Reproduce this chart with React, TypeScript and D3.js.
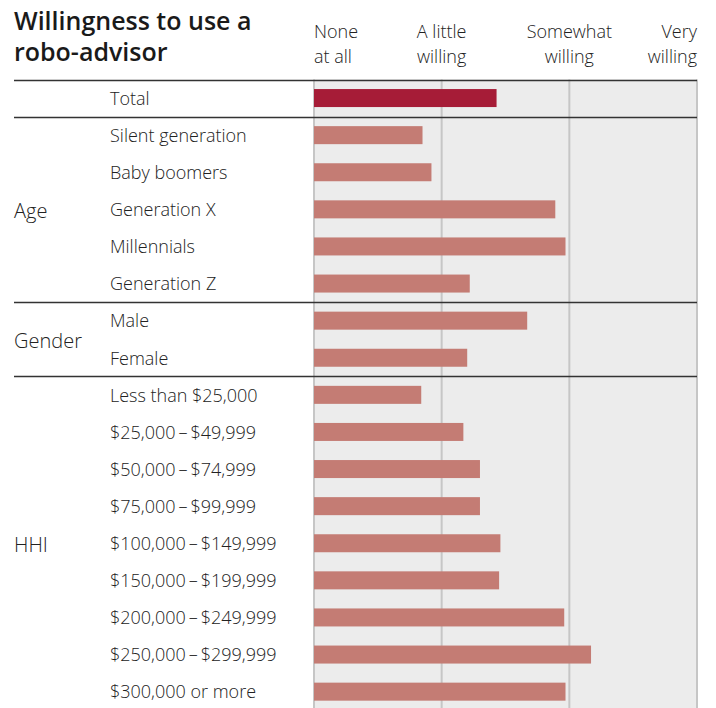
import React from "react";
import * as d3 from "d3";

// Willingness scale: 1 = none at all, 4 = very willing
const scaleLevels = [1, 2, 3, 4];
const scaleLabels = [
  ["None", "at all"],
  ["A little", "willing"],
  ["Somewhat", "willing"],
  ["Very", "willing"],
];

const categories = [
  "Total",
  "Silent generation",
  "Baby boomers",
  "Generation X",
  "Millennials",
  "Generation Z",
  "Male",
  "Female",
  "Less than $25,000",
  "$25,000\u2009–\u2009$49,999",
  "$50,000\u2009–\u2009$74,999",
  "$75,000\u2009–\u2009$99,999",
  "$100,000\u2009–\u2009$149,999",
  "$150,000\u2009–\u2009$199,999",
  "$200,000\u2009–\u2009$249,999",
  "$250,000\u2009–\u2009$299,999",
  "$300,000 or more",
];

const values = [
  2.43, 1.85, 1.92, 2.89, 2.97, 2.22, 2.67, 2.2, 1.84, 2.17, 2.3, 2.3, 2.46,
  2.45, 2.96, 3.17, 2.97,
];

const groups = [
  { name: "", first: "Total", last: "Total" },
  { name: "Age", first: "Silent generation", last: "Generation Z" },
  { name: "Gender", first: "Male", last: "Female" },
  { name: "HHI", first: categories[8], last: categories[16] },
];

const W = 716;
const H = 708;
const FONT = "'Open Sans', 'Noto Sans', sans-serif";
const LABEL_WEIGHT = 300;

export default function App() {
  const x = d3.scaleLinear().domain([1, 4]).range([314, 697]);
  const y = d3
    .scaleBand<string>()
    .domain(categories)
    .range([79.5, 79.5 + categories.length * 37.1])
    .paddingInner(0.515)
    .paddingOuter(0.2575);
  const step = y.step();
  const top = (c: string) => (y(c) as number) - (step - y.bandwidth()) / 2;
  const panelTop = 79.5;

  return (
    <svg
      width={W}
      height={H}
      style={{ position: "absolute", left: 0, top: 0, background: "#fff" }}
      fontFamily={FONT}
    >
      {/* title */}
      <text x={14} y={29.5} fontSize={25} fontWeight={600} fill="#1a1a1a">
        <tspan x={14}>Willingness to use a</tspan>
        <tspan x={14} dy={31}>robo-advisor</tspan>
      </text>

      {/* scale header */}
      {scaleLevels.map((v, i) => {
        const anchor = i === 0 ? "start" : i === scaleLevels.length - 1 ? "end" : "middle";
        return (
          <text
            key={v}
            x={x(v)}
            y={38}
            fontSize={18}
            fontWeight={LABEL_WEIGHT}
            fill="#222"
            textAnchor={anchor}
          >
            <tspan x={x(v)}>{scaleLabels[i][0]}</tspan>
            <tspan x={x(v)} dy={25}>{scaleLabels[i][1]}</tspan>
          </text>
        );
      })}

      {/* plotting panel */}
      <rect x={x(1)} y={panelTop} width={x(4) - x(1)} height={H - panelTop} fill="#ececec" />
      {scaleLevels.map((v) => (
        <line key={v} x1={x(v)} x2={x(v)} y1={panelTop} y2={H} stroke="#c6c6c6" strokeWidth={2} />
      ))}

      {/* bars */}
      {categories.map((c, i) => (
        <rect
          key={c}
          x={x(1)}
          y={y(c)}
          width={x(values[i]) - x(1)}
          height={y.bandwidth()}
          fill={i === 0 ? "#a61c37" : "#c47c74"}
        />
      ))}

      {/* category labels */}
      {categories.map((c) => (
        <text
          key={c}
          x={110}
          y={(y(c) as number) + y.bandwidth() / 2 + 0.5}
          dy="0.35em"
          fontSize={18}
          fontWeight={LABEL_WEIGHT}
          fill="#222"
        >
          {c}
        </text>
      ))}

      {/* group labels */}
      {groups.map((g) => {
        const y0 = top(g.first);
        const y1 = top(g.last) + step;
        return g.name ? (
          <text
            key={g.name}
            x={14}
            y={(y0 + y1) / 2 + 1.5}
            dy="0.35em"
            fontSize={20}
            fontWeight={LABEL_WEIGHT}
            fill="#222"
          >
            {g.name}
          </text>
        ) : null;
      })}

      {/* group separators */}
      {groups.map((g) => (
        <line
          key={"sep" + g.first}
          x1={14}
          x2={697}
          y1={Math.round(top(g.first)) + 0.5}
          y2={Math.round(top(g.first)) + 0.5}
          stroke="#333"
          strokeWidth={1.5}
        />
      ))}
    </svg>
  );
}
